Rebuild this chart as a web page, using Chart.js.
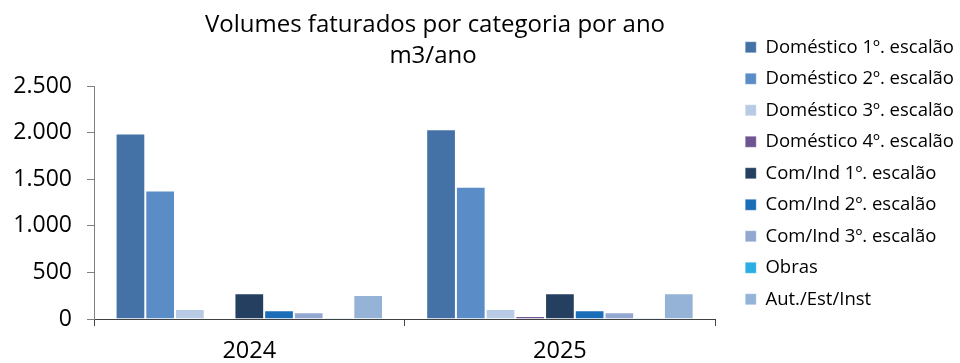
<!DOCTYPE html>
<html>
<head>
<meta charset="utf-8">
<script src="https://cdn.jsdelivr.net/npm/chart.js@4/dist/chart.umd.min.js"></script>
<style>
  html, body { margin: 0; padding: 0; background: #ffffff; }
  #wrap { width: 960px; height: 363px; position: relative; }
</style>
</head>
<body>
<div id="wrap"><canvas id="c"></canvas></div>
<script>
// Years on the category axis
const categories = ['2024', '2025'];

// Billed volumes (m3) per tariff category
const domestico1 = [1990, 2035];
const domestico2 = [1380, 1420];
const domestico3 = [107, 107];
const domestico4 = [7, 32];
const comInd1 = [276, 276];
const comInd2 = [93, 93];
const comInd3 = [72, 72];
const obras = [11, 11];
const autEstInst = [257, 276];

const seriesNames = [
  'Doméstico 1º. escalão',
  'Doméstico 2º. escalão',
  'Doméstico 3º. escalão',
  'Doméstico 4º. escalão',
  'Com/Ind 1º. escalão',
  'Com/Ind 2º. escalão',
  'Com/Ind 3º. escalão',
  'Obras',
  'Aut./Est/Inst'
];
const seriesValues = [domestico1, domestico2, domestico3, domestico4, comInd1, comInd2, comInd3, obras, autEstInst];
const seriesColors = ['#4471A6', '#5A8CC8', '#B7CBE5', '#6E5491', '#243F60', '#1B6DB8', '#93A8D0', '#2AAFE3', '#95B3D7'];

// Value axis labels (Portuguese thousands separator)
const yTickLabels = ['0', '500', '1.000', '1.500', '2.000', '2.500'];

const titleLines = ['Volumes faturados por categoria por ano', 'm3/ano'];

const FONT = '"Open Sans", Lato, "DejaVu Sans", sans-serif';
Chart.defaults.font.family = FONT;
Chart.defaults.color = '#000000';

const datasets = seriesNames.map((name, i) => ({
  label: name,
  data: seriesValues[i],
  backgroundColor: seriesColors[i],
  borderColor: 'rgba(255,255,255,0.3)',
  borderWidth: 1,
  xAxisID: 'x',
  yAxisID: 'y'
}));

// Empty layout box that keeps some room between the plot and the legend
const legendGapBox = {
  position: 'right',
  weight: 500,
  fullSize: false,
  options: { display: false },
  width: 0, height: 0, left: 0, top: 0, right: 0, bottom: 0,
  isHorizontal() { return false; },
  update(maxWidth, maxHeight) { this.width = 17; this.height = maxHeight; },
  draw() {}
};

const layoutPlugin = {
  id: 'legendGap',
  start(chart) { Chart.layouts.addBox(chart, legendGapBox); }
};

// Two-line heading drawn above the plot
const headingPlugin = {
  id: 'heading',
  afterDraw(chart) {
    const ctx = chart.ctx;
    ctx.save();
    ctx.fillStyle = '#000000';
    ctx.font = '24px ' + FONT;
    ctx.textAlign = 'center';
    ctx.textBaseline = 'alphabetic';
    ctx.fillText(titleLines[0], 435, 32);
    ctx.fillText(titleLines[1], 433, 62.5);
    ctx.restore();
  }
};

new Chart(document.getElementById('c'), {
  type: 'bar',
  data: { labels: categories, datasets },
  plugins: [layoutPlugin, headingPlugin],
  options: {
    responsive: true,
    maintainAspectRatio: false,
    animation: false,
    layout: { padding: { top: 25, right: -4, bottom: 0, left: 0 } },
    datasets: {
      bar: { categoryPercentage: 0.861, barPercentage: 1.0 }
    },
    plugins: {
      title: { display: false },
      tooltip: { enabled: false },
      legend: {
        position: 'right',
        align: 'start',
        labels: {
          boxWidth: 11,
          boxHeight: 11,
          padding: 13,
          color: '#000000',
          font: { size: 18.5 }
        }
      }
    },
    scales: {
      x: {
        type: 'category',
        position: 'bottom',
        grid: {
          display: true,
          offset: true,
          drawOnChartArea: false,
          drawTicks: true,
          tickLength: 7,
          tickColor: '#404040'
        },
        border: { display: true, color: '#404040', width: 1 },
        ticks: { color: '#000000', padding: 14, font: { size: 23.5, lineHeight: 1 } },
        afterFit(s) { s.height = 44; }
      },
      y: {
        type: 'linear',
        position: 'left',
        min: 0,
        max: 2500,
        grid: {
          display: true,
          drawOnChartArea: false,
          drawTicks: true,
          tickLength: 7,
          tickColor: '#808080'
        },
        border: { display: true, color: '#808080', width: 1 },
        ticks: {
          stepSize: 500,
          padding: 15,
          color: '#000000',
          font: { size: 23 },
          callback: (v) => yTickLabels[Math.round(v / 500)]
        },
        afterFit(s) { s.width = 94; }
      },
      headSpace: {
        type: 'linear',
        position: 'top',
        display: true,
        grid: { display: false },
        border: { display: false },
        ticks: { display: false },
        afterFit(s) { s.height = 61; }
      }
    }
  }
});
</script>
</body>
</html>
